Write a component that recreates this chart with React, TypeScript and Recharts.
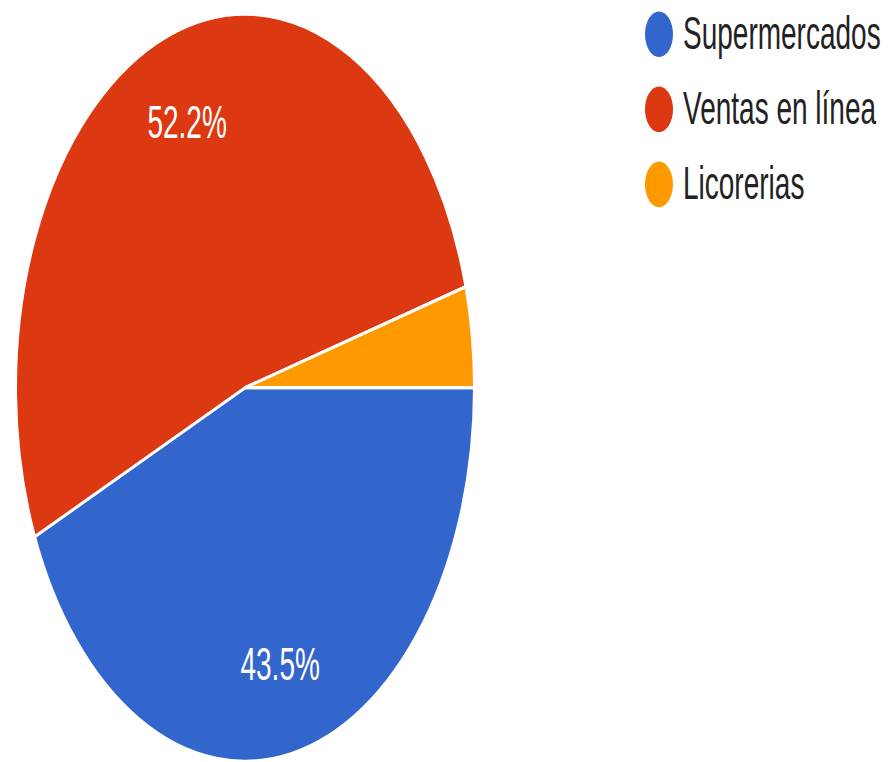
import React from "react";
import { PieChart, Pie, Cell, Legend } from "recharts";

const categories = ["Supermercados", "Ventas en línea", "Licorerias"];
const counts = [10, 12, 1];
const COLORS = ["#3366cc", "#dc3912", "#ff9900"];

const data = categories.map((name, i) => ({ name, value: counts[i] }));

const W = 890;
const H = 467;
const STRETCH = 762 / H;
const RADIAN = Math.PI / 180;
const FONT = "Arial, 'Liberation Sans', sans-serif";

const renderLabel = (props: any) => {
  const { cx, cy, midAngle, outerRadius, percent } = props;
  if (percent < 0.05) return null;
  const r = outerRadius * 0.755;
  const x = cx + r * Math.cos(-midAngle * RADIAN);
  const y = cy + r * Math.sin(-midAngle * RADIAN);
  return (
    <text
      x={x}
      y={y}
      fill="#ffffff"
      textAnchor="middle"
      dominantBaseline="central"
      fontSize={28}
      fontFamily={FONT}
    >
      {`${(percent * 100).toFixed(1)}%`}
    </text>
  );
};

const LegendContent = () => (
  <div style={{ fontFamily: FONT, fontSize: 28, color: "#222222" }}>
    {categories.map((name, i) => (
      <div
        key={name}
        style={{ display: "flex", alignItems: "center", height: 46 }}
      >
        <span
          style={{
            display: "inline-block",
            width: 28,
            height: 28,
            borderRadius: "50%",
            background: COLORS[i],
            marginRight: 10,
          }}
        />
        <span>{name}</span>
      </div>
    ))}
  </div>
);

const App: React.FC = () => (
  <div
    style={{
      position: "absolute",
      left: 0,
      top: 0,
      width: W,
      height: H,
      transform: `scaleY(${STRETCH})`,
      transformOrigin: "top left",
    }}
  >
    <PieChart width={W} height={H} margin={{ top: 0, right: 0, bottom: 0, left: 0 }}>
      <Pie
        data={data}
        dataKey="value"
        nameKey="name"
        cx={245}
        cy={237.6}
        outerRadius={229}
        startAngle={0}
        endAngle={-360}
        stroke="#ffffff"
        strokeWidth={2}
        label={renderLabel}
        labelLine={false}
        isAnimationActive={false}
      >
        {data.map((_, i) => (
          <Cell key={i} fill={COLORS[i]} />
        ))}
      </Pie>
      <Legend
        content={<LegendContent />}
        wrapperStyle={{ position: "absolute", left: 645, top: -2, width: 245 }}
      />
    </PieChart>
  </div>
);

export default App;
